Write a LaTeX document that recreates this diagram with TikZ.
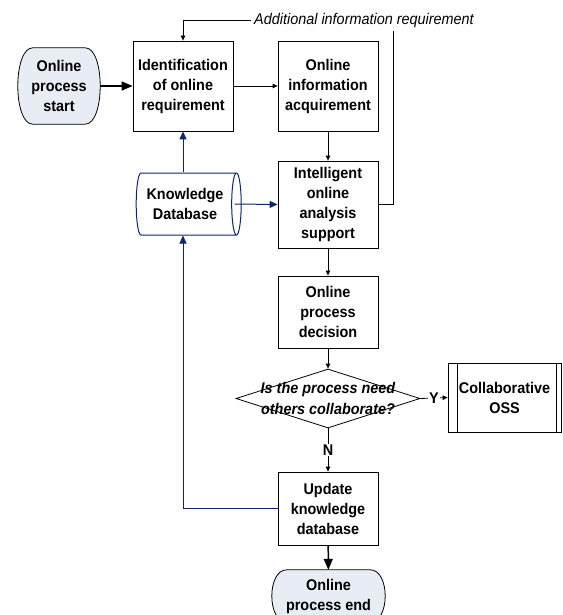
\documentclass[tikz,border=0pt]{standalone}
\usepackage{fontspec}
\setmainfont{Liberation Sans}[FakeStretch=0.93]
\usetikzlibrary{arrows.meta, positioning, shapes.geometric}
\definecolor{kdblue}{RGB}{12,38,110}
\definecolor{termfill}{RGB}{232,236,244}
\pgfdeclarelayer{background}
\pgfsetlayers{background,main}

% outline of a start/end terminal, drawn behind the named node
\newcommand{\termoutline}[1]{%
  \begin{pgfonlayer}{background}
    \draw[line width=0.8pt, fill=termfill]
      ([xshift=15pt]#1.north west) -- ([xshift=-15pt]#1.north east)
      .. controls ([xshift=5pt]#1.north east) and ([xshift=5pt]#1.south east) .. ([xshift=-15pt]#1.south east)
      -- ([xshift=15pt]#1.south west)
      .. controls ([xshift=-5pt]#1.south west) and ([xshift=-5pt]#1.north west) .. cycle;
  \end{pgfonlayer}}

\begin{document}
\begin{tikzpicture}[
    x=1pt, y=-1pt,
    every node/.style={font=\fontsize{15.5}{20}\selectfont\bfseries},
    box/.style={rectangle, draw, line width=0.8pt, minimum width=100pt, align=center, inner sep=2pt},
    term/.style={rectangle, align=center, inner sep=2pt},
    note/.style={font=\fontsize{15.5}{18}\selectfont\itshape},
    arrow/.style={-{Triangle[length=5pt, width=4.5pt]}, line width=0.8pt},
    bigarrow/.style={-{Triangle[length=11pt, width=9pt]}, line width=1.5pt},
    dbarrow/.style={-{Triangle[length=8pt, width=7pt]}, kdblue, line width=1pt},
    yn/.style={fill=white, inner sep=1pt}
]
\useasboundingbox (0,0) rectangle (562,615);

% ============ TOP ROW ============
\node[term, minimum width=82pt, minimum height=76pt] (start) at (59,86) {Online\\process\\start};
\termoutline{start}
\node[box, minimum height=90pt] (ident) at (183,86) {Identification\\of online\\requirement};
\node[box, minimum height=90pt] (acq) at (328,86) {Online\\information\\acquirement};
\node[note] (addinfo) at (364,20) {Additional information requirement};

\draw[bigarrow] (start) -- (ident);
\draw[arrow] (ident) -- (acq);

% ============ KNOWLEDGE DATABASE ============
\node[cylinder, draw=kdblue, line width=1pt, fill=white, aspect=0.25,
      minimum width=62pt, minimum height=105pt, align=center] (kd) at (185,204) {Knowledge\\Database};
\node[box, minimum height=87pt] (intel) at (328,204.5) {Intelligent\\online\\analysis\\support};

\draw[arrow] (acq) -- (intel);
\draw[dbarrow] (kd.north -| ident.south) -- (ident.south);
\draw[dbarrow] ([xshift=-7pt]kd.east) -- (intel.west);

% Feedback loop
\draw[line width=0.8pt] (intel.east) -| ([xshift=29pt]addinfo.south);
\draw[arrow] (addinfo.west) -| (ident.north);

% ============ DECISION ============
\node[box, minimum height=72pt] (decide) at (328,312) {Online\\process\\decision};
\node[diamond, draw, line width=0.8pt, minimum width=184pt, minimum height=59pt, inner sep=0pt] (collab) at (328,398.5) {};
\node[font=\fontsize{15.5}{21}\selectfont\bfseries\itshape, align=center] (collabtext) at (collab.center) {Is the process need\\others collaborate?};
\node[box, minimum width=113pt, minimum height=69pt] (oss) at (504.5,397.5) {Collaborative\\OSS};
\draw[line width=0.8pt] ([xshift=10pt]oss.north west) -- ([xshift=10pt]oss.south west);
\draw[line width=0.8pt] ([xshift=-5pt]oss.north east) -- ([xshift=-5pt]oss.south east);

\draw[arrow] (intel) -- (decide);
\draw[arrow] (decide) -- (collab);
\draw[arrow] (collab.east) -- node[yn] (ylabel) {Y} (oss.west);

% ============ UPDATE AND END ============
\node[box, minimum height=73pt] (update) at (328,508.5) {Update\\knowledge\\database};
\node[term, minimum width=113pt, minimum height=52pt] (stop) at (328.5,596) {Online\\process end};
\termoutline{stop}

\draw[arrow] (collab.south) -- node[yn] (nlabel) {N} (update.north);
\draw[bigarrow] (update) -- (stop);
\draw[dbarrow] (update.west) -| (ident.south |- kd.south);

\end{tikzpicture}
\end{document}
